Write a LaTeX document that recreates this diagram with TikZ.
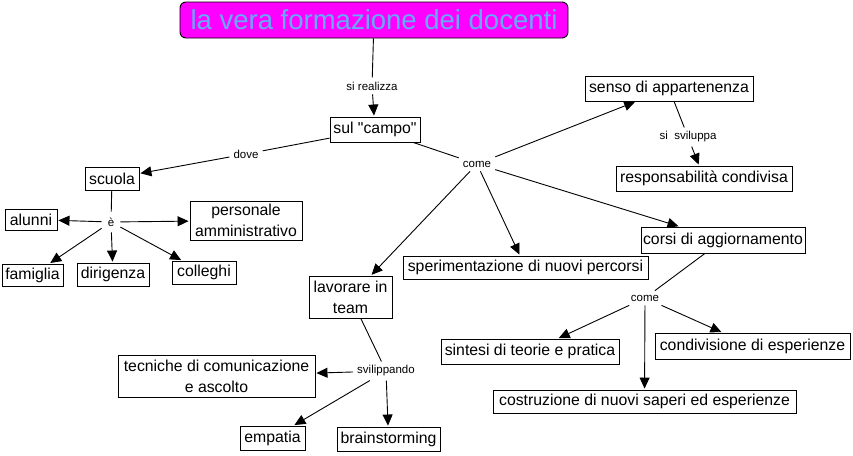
\documentclass[tikz,border=0pt]{standalone}
\usepackage{fontspec}
\setmainfont{Liberation Sans}[Ligatures=TeXOff]
\usetikzlibrary{arrows.meta}
\definecolor{titlefill}{RGB}{255,0,255}
\definecolor{titletext}{RGB}{100,170,255}
\tikzset{
  box/.style={draw, line width=0.9pt, inner sep=0pt, align=center,
    font=\fontsize{15.8}{21}\selectfont},
  lbl/.style={inner sep=4pt, font=\fontsize{11.5}{13}\selectfont},
  conn/.style={line width=0.9pt},
  arr/.style={line width=0.9pt, -{Triangle[length=11pt,width=10pt]}, shorten >=1pt},
}
\begin{document}
\begin{tikzpicture}[x=1pt,y=-1pt]
\useasboundingbox (0,0) rectangle (853,455);
% title
\node[draw, line width=0.9pt, fill=titlefill, rounded corners=6pt, minimum width=388pt, minimum height=36pt, inner sep=0pt,
  text=titletext, font=\fontsize{27.5}{30}\selectfont] (title) at (374,20) {la vera formazione dei docenti};
% boxes
\node[box, minimum width=90pt, minimum height=25pt] (sul) at (375,129.5) {sul "campo"};
\node[box, minimum width=54pt, minimum height=23pt] (scuola) at (112,178.5) {scuola};
\node[box, minimum width=52pt, minimum height=21pt] (alunni) at (31,219.5) {alunni};
\node[box, minimum width=112pt, minimum height=39pt] (pers) at (246,220.5) {personale\\amministrativo};
\node[box, minimum width=61pt, minimum height=22pt] (fam) at (32.5,275) {famiglia};
\node[box, minimum width=72pt, minimum height=23pt] (dir) at (113,274.5) {dirigenza};
\node[box, minimum width=64pt, minimum height=23pt] (coll) at (204,272.5) {colleghi};
\node[box, minimum width=168pt, minimum height=25pt] (senso) at (669,88.5) {senso di appartenenza};
\node[box, minimum width=176pt, minimum height=25pt] (resp) at (704,178.5) {responsabilità condivisa};
\node[box, minimum width=164pt, minimum height=26pt] (corsi) at (723,240) {corsi di aggiornamento};
\node[box, minimum width=245pt, minimum height=23pt] (sper) at (525.5,267.5) {sperimentazione di nuovi percorsi};
\node[box, minimum width=83pt, minimum height=42pt] (lav) at (350.5,297) {lavorare in\\team};
\node[box, minimum width=178pt, minimum height=25pt] (sint) at (530,351.5) {sintesi di teorie e pratica};
\node[box, minimum width=195pt, minimum height=26pt] (cond) at (752.5,346) {condivisione di esperienze};
\node[box, minimum width=303pt, minimum height=23pt] (costr) at (644.5,401.5) {costruzione di nuovi saperi ed esperienze};
\node[box, minimum width=197pt, minimum height=42pt] (tec) at (216.5,376) {tecniche di comunicazione\\e ascolto};
\node[box, minimum width=65pt, minimum height=24pt] (emp) at (272.5,438) {empatia};
\node[box, minimum width=103pt, minimum height=24pt] (brain) at (388.5,439) {brainstorming};
% labels
\node[lbl] (sireal) at (372,86) {si realizza};
\node[lbl] (dove) at (246,154) {dove};
\node[lbl, inner sep=6pt] (e) at (111,222) {è};
\node[lbl] (come) at (477,164) {come};
\node[lbl] (sisvil) at (688,137) {si\ \ sviluppa};
\node[lbl] (come2) at (645,298) {come};
\node[lbl] (svil) at (386,371) {svilippando};
% connectors
\draw[conn] (title) -- (sireal);
\draw[arr] (sireal) -- (sul);
\draw[conn] (sul) -- (dove);
\draw[arr] (dove) -- (scuola);
\draw[conn] (scuola) -- (e);
\draw[arr] (e) -- (alunni);
\draw[arr] (e) -- (pers);
\draw[arr] (e) -- (fam);
\draw[arr] (e) -- (dir);
\draw[arr] (e) -- (coll);
\draw[conn] (sul) -- (come);
\draw[arr] (come) -- (senso);
\draw[arr] (come) -- (corsi);
\draw[arr] (come) -- (sper);
\draw[arr] (come) -- (lav);
\draw[conn] (senso) -- (sisvil);
\draw[arr] (sisvil) -- (resp);
\draw[conn] (corsi) -- (come2);
\draw[arr] (come2) -- (sint);
\draw[arr] (come2) -- (cond);
\draw[arr] (come2) -- (costr);
\draw[conn] (lav) -- (svil);
\draw[arr] (svil) -- (tec);
\draw[arr] (svil) -- (emp);
\draw[arr] (svil) -- (brain);
\end{tikzpicture}
\end{document}
